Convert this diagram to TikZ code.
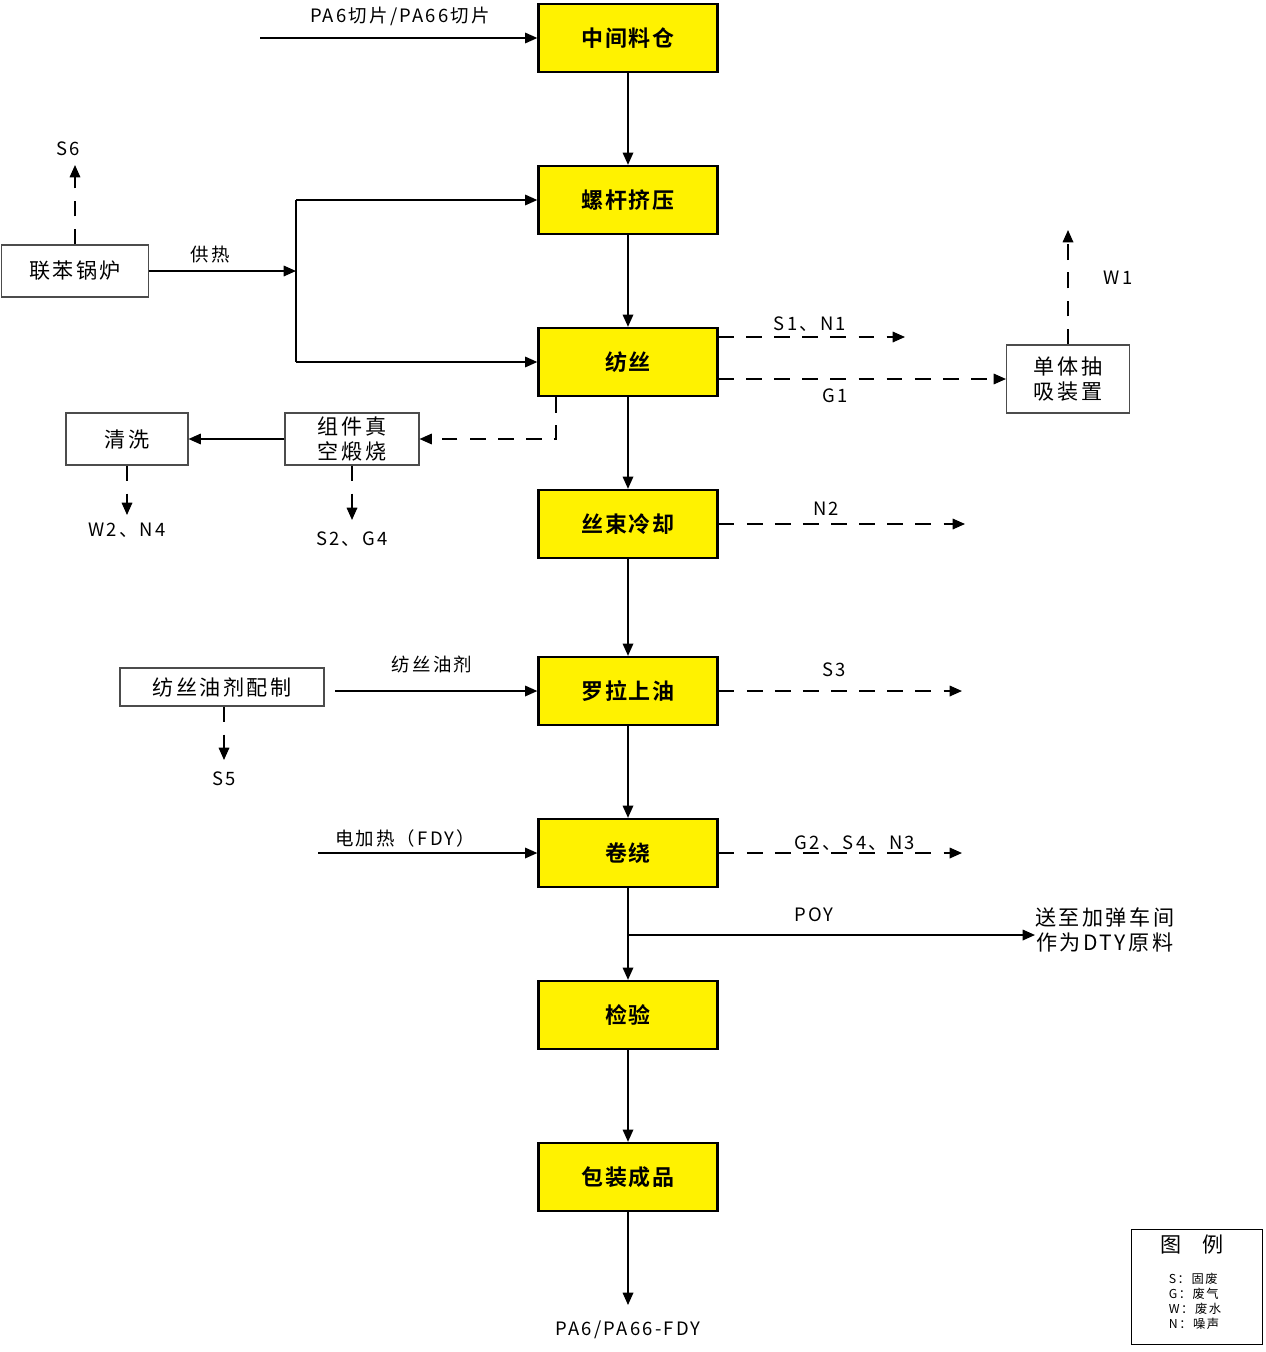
\documentclass[tikz,border=0pt]{standalone}
\usepackage{fontspec}
\setmainfont[LetterSpace=12]{Noto Sans CJK SC}
\newfontfamily\boldcjk[LetterSpace=8,BoldFont={Noto Sans CJK SC Bold}]{Noto Sans CJK SC}
\usetikzlibrary{arrows.meta}
\begin{document}
\begin{tikzpicture}[x=0.02cm,y=-0.02cm,
 mainbox/.style={draw,line width=1.3pt,fill=yellow,minimum width=179*0.02cm,minimum height=68*0.02cm,font=\boldcjk\fontsize{12.5}{14}\selectfont\bfseries},
 sidebox/.style={draw=black!70,line width=0.6pt,fill=white,font=\fontsize{12}{14}\selectfont,align=center,inner sep=1pt},
 lbl/.style={font=\fontsize{10.5}{12.5}\selectfont,inner sep=1pt},
 arr/.style={-{Triangle[length=7pt,width=6pt]},line width=0.9pt},
 darr/.style={arr,dash pattern=on 9pt off 7pt}]
\useasboundingbox (0,0) rectangle (1265,1352);
\foreach \n/\t/\y in {b1/中间料仓/38,b2/螺杆挤压/200,b3/纺丝/362,b4/丝束冷却/524,b5/罗拉上油/691,b6/卷绕/853,b7/检验/1015,b8/包装成品/1177}
  \node[mainbox] (\n) at (628,\y) {\t};
\foreach \a/\b in {b1/b2,b2/b3,b3/b4,b4/b5,b5/b6,b6/b7,b7/b8} \draw[arr] (\a) -- (\b);
% input
\coordinate (in1) at (260,38);
\draw[arr] (in1) -- (b1.west);
\node[lbl] at (400,16) {PA6切片/PA66切片};
% boiler
\node[sidebox,minimum width=147*0.02cm,minimum height=52*0.02cm] (boil) at (75,271) {联苯锅炉};
\coordinate (s6) at (75,165);
\draw[darr] (boil.north) -- (s6);
\node[lbl] at (68,149) {S6};
\coordinate (hj) at (296,271);
\draw[arr] (boil.east) -- (hj);
\node[lbl] at (210,255) {供热};
\coordinate (ht) at (296,200); \coordinate (hb) at (296,362);
\draw[line width=0.9pt] (ht) -- (hb);
\draw[arr] (ht) -- (b2.west);
\draw[arr] (hb) -- (b3.west);
% spinning outputs
\coordinate (sn1a) at (718,337); \coordinate (sn1) at (905,337);
\draw[darr] (sn1a) -- (sn1);
\node[lbl] at (810,324) {S1、N1};
\node[sidebox,minimum width=123*0.02cm,minimum height=68*0.02cm] (mono) at (1068,379) {单体抽\\吸装置};
\coordinate (g1a) at (718,379);
\draw[darr] (g1a) -- (mono.west);
\node[lbl] at (835,396) {G1};
\coordinate (w1) at (1068,230);
\draw[darr] (mono.north) -- (w1);
\node[lbl] at (1118,278) {W1};
% component calcination
\node[sidebox,minimum width=134*0.02cm,minimum height=52*0.02cm] (calc) at (352,439) {组件真\\空煅烧};
\node[sidebox,minimum width=122*0.02cm,minimum height=52*0.02cm] (wash) at (127,439) {清洗};
\coordinate (c1) at (556,397); \coordinate (c2) at (556,439);
\draw[darr] (c1) -- (c2) -- (calc.east);
\draw[arr] (calc.west) -- (wash.east);
\coordinate (s2) at (352,520); \coordinate (w2) at (127,515);
\draw[darr] (calc.south) -- (s2);
\draw[darr] (wash.south) -- (w2);
\node[lbl] at (352,539) {S2、G4};
\node[lbl] at (127,530) {W2、N4};
% cooling
\coordinate (n2) at (965,524);
\draw[darr] (b4.east) -- (n2);
\node[lbl] at (826,509) {N2};
% oil
\node[sidebox,minimum width=204*0.02cm,minimum height=38*0.02cm] (oil) at (222,687) {纺丝油剂配制};
\coordinate (oa) at (335,691);
\draw[arr] (oa) -- (b5.west);
\node[lbl] at (432,664) {纺丝油剂};
\coordinate (s5) at (224,760);
\draw[darr] (oil.south -| s5) -- (s5);
\node[lbl] at (224,779) {S5};
\coordinate (s3) at (962,691);
\draw[darr] (b5.east) -- (s3);
\node[lbl] at (834,670) {S3};
% winding
\coordinate (ea) at (318,853);
\draw[arr] (ea) -- (b6.west);
\node[lbl] at (405,838) {电加热（FDY）};
\coordinate (g2) at (962,853);
\draw[darr] (b6.east) -- (g2);
\node[lbl] at (855,843) {G2、S4、N3};
% POY
\coordinate (pa) at (628,935); \coordinate (pb) at (1035,935);
\draw[arr] (pa) -- (pb);
\node[lbl] at (814,915) {POY};
\node[lbl,align=center,anchor=west,font=\fontsize{12}{14}\selectfont] at (1033,930) {送至加弹车间\\作为DTY原料};
% final
\coordinate (fin) at (628,1305);
\draw[arr] (b8.south) -- (fin);
\node[lbl] at (628,1330) {PA6/PA66-FDY};
% legend
\node[draw,line width=1pt,minimum width=131*0.02cm,minimum height=115*0.02cm] (leg) at (1197,1287) {};
\node[font=\fontsize{12}{14}\selectfont] at (1192,1244) {图\quad 例};
\node[font=\fontsize{7}{8.6}\selectfont,align=left] at (1195,1301) {S：固废\\G：废气\\W：废水\\N：噪声};
\end{tikzpicture}
\end{document}
